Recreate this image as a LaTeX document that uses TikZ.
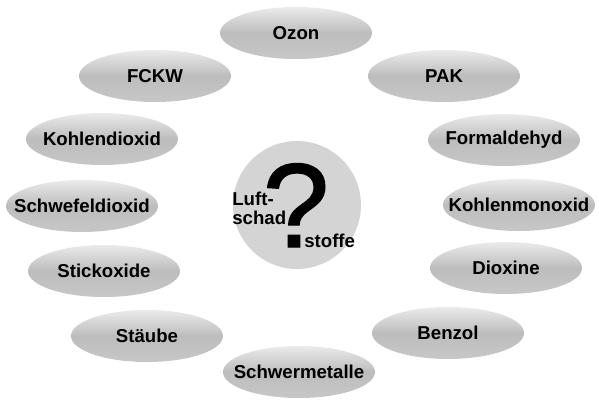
\documentclass[tikz,border=0pt]{standalone}
\usepackage{fontspec}
\setmainfont{Liberation Sans}
\newfontfamily\fragefont[FakeBold=1.2]{Liberation Sans}
\usetikzlibrary{shapes.geometric}

\begin{document}
\begin{tikzpicture}[
    x=0.2mm, y=-0.2mm,
    stoff/.style={ellipse, minimum width=3.04cm, minimum height=1.04cm,
                  inner sep=0pt, top color=black!8, bottom color=black!22,
                  middle color=black!26,
                  label={[font=\fontsize{10.6}{12}\selectfont\bfseries]center:#1}},
    mitte/.style={inner sep=0pt, font=\fontsize{10.6}{12}\selectfont\bfseries},
]
\useasboundingbox (0,0) rectangle (599,407);

% Mitte
\node[circle, minimum size=2.56cm, inner sep=0pt, fill=black!17] (kreis) at (297,205) {};
\node[inner sep=0pt, font=\fontsize{68}{72}\fragefont, anchor=base] (frage) at (296,247) {?};
\node[mitte, anchor=base west] (luft) at (232,205) {Luft-};
\node[mitte, anchor=base west] (schad) at (232,224) {schad};
\node[mitte, anchor=base west] (stoffe) at (304,247) {stoffe};

% Schadstoffe ringsum
\node[stoff=Ozon]           (ozon)      at (296,33)  {};
\node[stoff=FCKW]           (fckw)      at (155,76)  {};
\node[stoff=PAK]            (pak)       at (444,76)  {};
\node[stoff=Kohlendioxid]   (co2)       at (102,139) {};
\node[stoff=Formaldehyd]    (formal)    at (504,140) {};
\node[stoff=Schwefeldioxid] (so2)       at (82,206)  {};
\node[stoff=Kohlenmonoxid]  (co)        at (519,205) {};
\node[stoff=Stickoxide]     (nox)       at (104,271) {};
\node[stoff=Dioxine]        (dioxine)   at (506,268) {};
\node[stoff=Stäube]         (staeube)   at (147,336) {};
\node[stoff=Benzol]         (benzol)    at (448,333) {};
\node[stoff=Schwermetalle]  (metalle)   at (299,372) {};
\end{tikzpicture}
\end{document}
